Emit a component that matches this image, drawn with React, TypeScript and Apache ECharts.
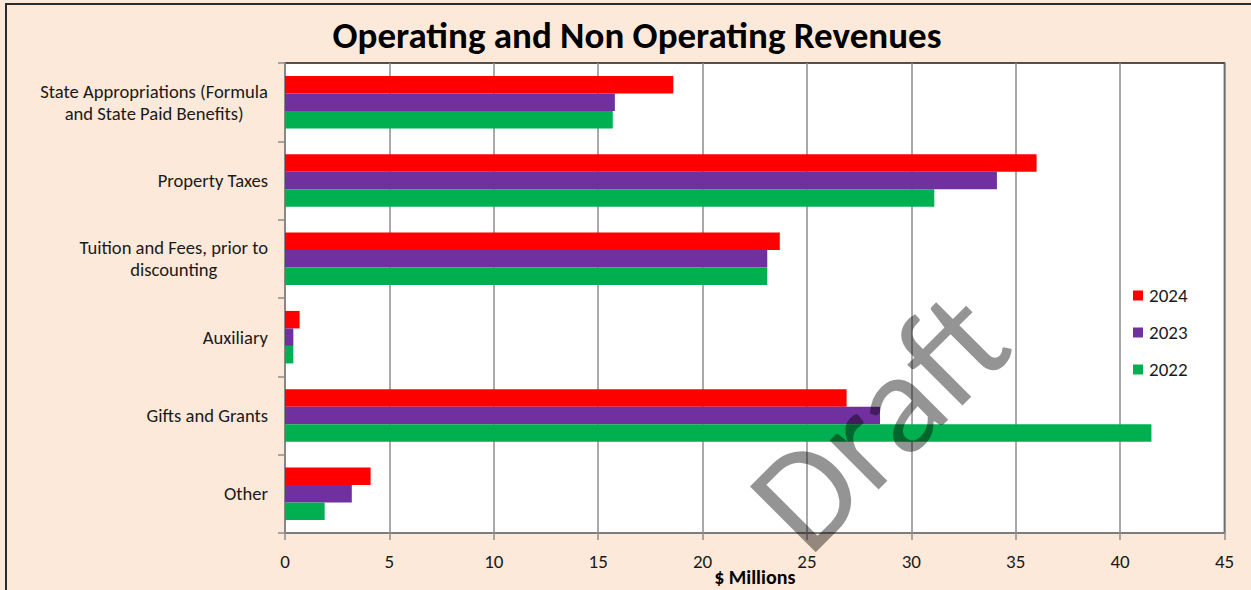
import React, { useEffect, useRef } from "react";
import * as echarts from "echarts";

const categories = [
  "State Appropriations (Formula\nand State Paid Benefits)",
  "Property Taxes",
  "Tuition and Fees, prior to\ndiscounting",
  "Auxiliary",
  "Gifts and Grants",
  "Other",
];
const seriesNames = ["2024", "2023", "2022"];
const values2024 = [18.6, 36.0, 23.7, 0.7, 26.9, 4.1];
const values2023 = [15.8, 34.1, 23.1, 0.4, 28.5, 3.2];
const values2022 = [15.7, 31.1, 23.1, 0.4, 41.5, 1.9];
const colors = ["#ff0000", "#7030a0", "#00b050"];
const xTicks = { min: 0, max: 45, interval: 5 };

const FONT = "Carlito, Lato, 'Noto Sans', sans-serif";

export default function App() {
  const ref = useRef<HTMLDivElement>(null);
  useEffect(() => {
    if (!ref.current) return;
    const chart = echarts.init(ref.current, null, { renderer: "svg" });
    const data = [values2024, values2023, values2022];
    chart.setOption({
      animation: false,
      backgroundColor: "#fde9d9",
      title: {
        text: "Operating and Non Operating Revenues",
        left: 637,
        top: 17,
        textAlign: "center",
        padding: 0,
        textStyle: { fontFamily: FONT, fontWeight: "bold", fontSize: 37, color: "#000" },
      },
      legend: {
        orient: "vertical",
        left: 1128,
        top: 281,
        itemWidth: 10,
        itemHeight: 10,
        itemGap: 18,
        itemStyle: { borderWidth: 0 },
        icon: "rect",
        data: seriesNames,
        textStyle: { fontFamily: FONT, fontSize: 19, color: "#1a1a1a", lineHeight: 19, padding: [0, 0, 0, 1] },
      },
      grid: {
        left: 285,
        top: 63,
        right: 26.5,
        bottom: 57,
        show: true,
        backgroundColor: "#ffffff",
        borderColor: "#1a1a1a",
        borderWidth: 1.5,
        containLabel: false,
        outerBoundsMode: "none",
      },
      xAxis: {
        type: "value",
        min: xTicks.min,
        max: xTicks.max,
        interval: xTicks.interval,
        name: "$ Millions",
        nameLocation: "middle",
        nameGap: 34,
        nameMoveOverlap: false,
        nameTextStyle: { fontFamily: FONT, fontWeight: "bold", fontSize: 20, color: "#000" },
        axisLine: { show: true, lineStyle: { color: "#8c8c8c", width: 1.5 } },
        axisTick: { show: true, length: 7, lineStyle: { color: "#8c8c8c", width: 1.5 } },
        axisLabel: { fontFamily: FONT, fontSize: 19, color: "#1a1a1a", margin: 19 },
        splitLine: { show: true, lineStyle: { color: "#8c8c8c", width: 1.5 } },
      },
      yAxis: {
        type: "category",
        inverse: true,
        data: categories,
        axisLine: { show: true, lineStyle: { color: "#8c8c8c", width: 1.5 } },
        axisTick: { show: true, length: 7, lineStyle: { color: "#8c8c8c", width: 1.5 } },
        axisLabel: {
          margin: 17,
          align: "right",
          formatter: (v: string) => v.split("\n").map((l) => `{c|${l}}`).join("\n"),
          rich: {
            c: { align: "center", fontFamily: FONT, fontSize: 18.6, color: "#1a1a1a", lineHeight: 22 },
          },
        },
      },
      series: seriesNames.map((name, i) => ({
        name,
        type: "bar",
        data: data[i],
        barGap: "0%",
        barCategoryGap: "33%",
        itemStyle: { color: colors[i] },
      })),
      graphic: [
        {
          type: "rect",
          shape: { x: 6, y: 4, width: 1400, height: 800 },
          style: { fill: "none", stroke: "#2b2b2b", lineWidth: 2 },
          silent: true,
          z: 100,
        },
        {
          type: "text",
          x: 878,
          y: 420,
          rotation: (45 * Math.PI) / 180,
          silent: true,
          z: 100,
          style: {
            text: "Draft",
            fill: "rgba(0,0,0,0.42)",
            font: `145px ${FONT}`,
            align: "center",
            verticalAlign: "middle",
          },
        },
      ],
    });
    return () => chart.dispose();
  }, []);
  return (
    <div
      ref={ref}
      style={{ position: "fixed", left: 0, top: 0, width: 1251, height: 590 }}
    />
  );
}
